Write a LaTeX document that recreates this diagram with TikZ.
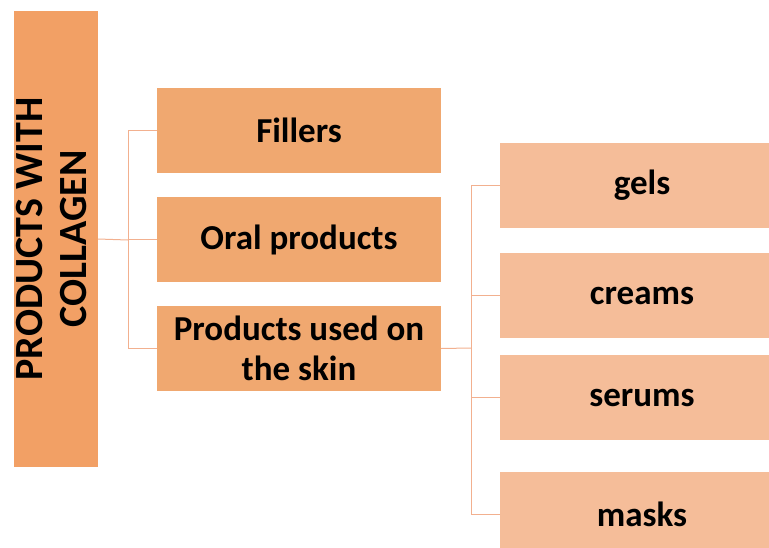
\documentclass[tikz,border=0pt]{standalone}
\usepackage{fontspec}
\setmainfont{Carlito}
\usetikzlibrary{positioning}

\definecolor{rootfill}{HTML}{F2A065}
\definecolor{midfill}{HTML}{F0A870}
\definecolor{leaffill}{HTML}{F5BD99}
\definecolor{linkcol}{HTML}{F2B08F}

\begin{document}
\begin{tikzpicture}[
    x=1pt, y=-1pt,
    node distance=24pt,
    rootbox/.style={rectangle, fill=rootfill, inner sep=0pt, outer sep=0pt, minimum width=84pt, minimum height=456pt, font=\fontsize{40}{44}\selectfont\bfseries},
    midbox/.style={rectangle, fill=midfill, inner sep=0pt, outer sep=0pt, align=center, minimum width=284pt, minimum height=85pt, font=\fontsize{35}{40}\selectfont\bfseries},
    leafbox/.style={rectangle, fill=leaffill, inner sep=0pt, outer sep=0pt, align=center, minimum width=284pt, minimum height=85pt, font=\fontsize{35}{40}\selectfont\bfseries},
    link/.style={draw=linkcol, line width=1pt}
]
\useasboundingbox (0,0) rectangle (769,547);
\clip (0,0) rectangle (769,547);

% Boxes
\node (root) [rootbox, anchor=north west] at (14,11) {\makebox[0pt]{\rotatebox{90}{\begin{tabular}{@{}c@{}}PRODUCTS WITH\\COLLAGEN\end{tabular}}}};
\node (fillers) [midbox, anchor=north west] at (157,88) {Fillers};
\node (oral) [midbox, below=of fillers] {Oral products};
\node (skin) [midbox, below=of oral] {Products used on\\the skin};

\node (gels) [leafbox, anchor=north west] at (500,143) {gels};
\node (creams) [leafbox, below=25pt of gels] {creams};
\node (serums) [leafbox, below=17pt of creams] {serums};
\node (masks) [leafbox, below=32pt of serums] {masks};

% Connectors
\coordinate (jleft) at (128,240);
\coordinate (jright) at (471,348);
\draw [link] (root.east) -- (jleft);
\draw [link] (fillers.west) -| (jleft);
\draw [link] (oral.west) -- (oral.west -| jleft);
\draw [link] (skin.west) -| (jleft);
\draw [link] (skin.east) -- (jright);
\draw [link] (gels.west) -| (jright);
\draw [link] (creams.west) -- (creams.west -| jright);
\draw [link] (serums.west) -| (jright);
\draw [link] (masks.west) -| (jright);
\end{tikzpicture}
\end{document}
